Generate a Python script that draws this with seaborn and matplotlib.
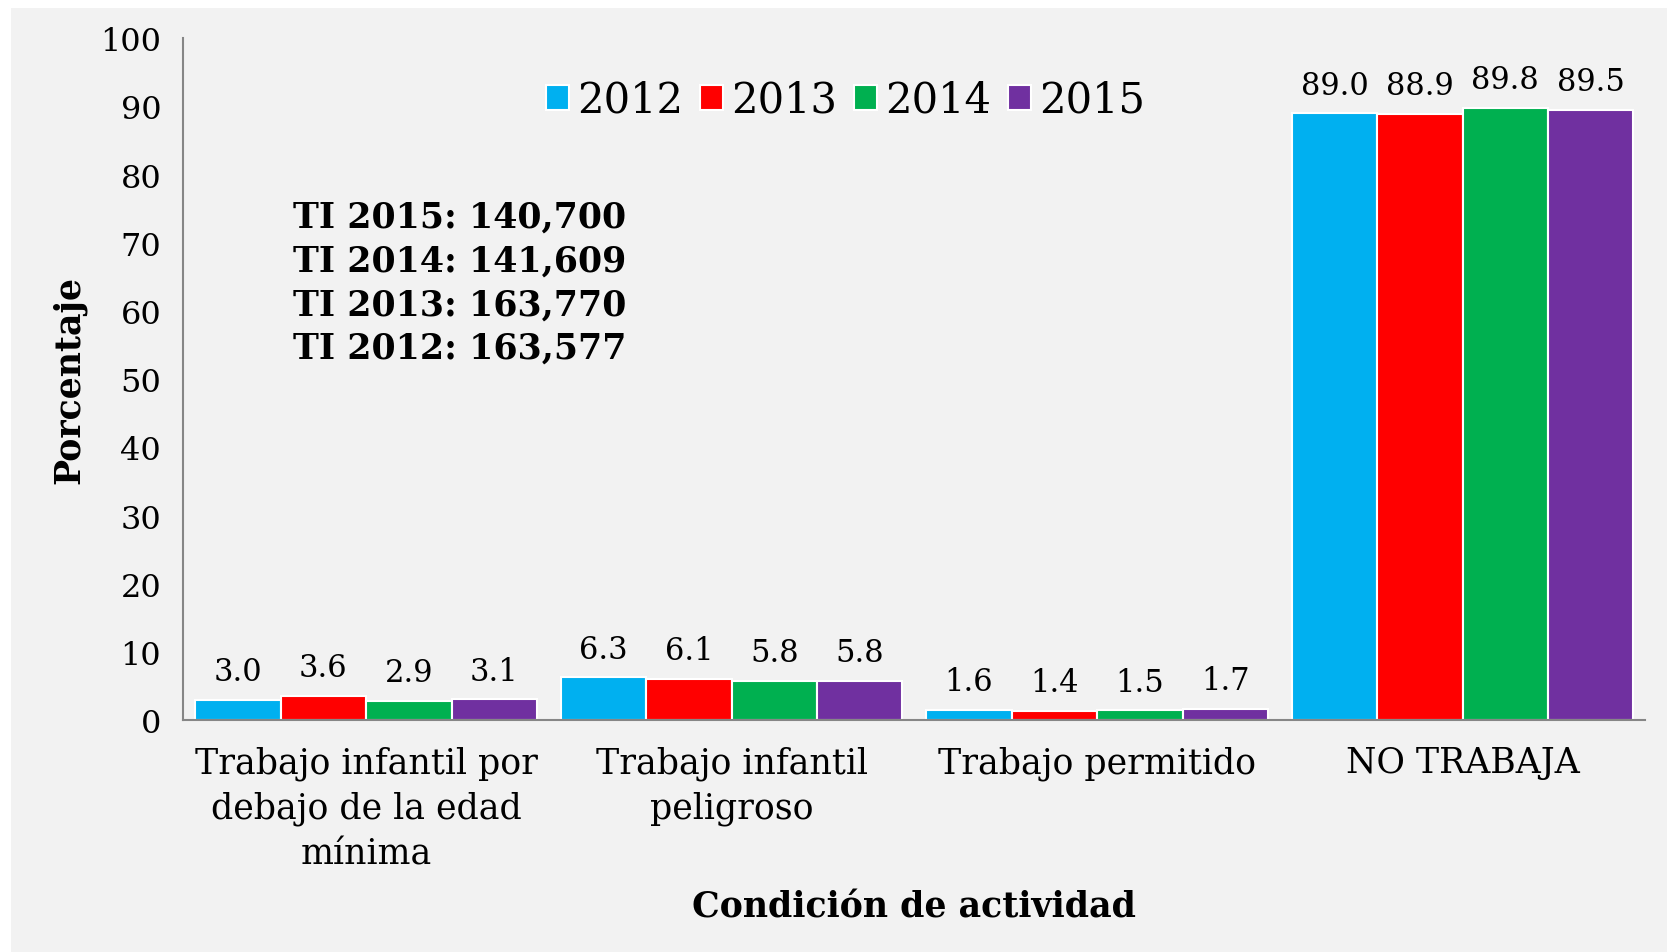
import pandas as pd
import seaborn as sns
import matplotlib.pyplot as plt
from matplotlib.patches import Rectangle

# ---------------------------
# Data
# ---------------------------
categories = [
    "Trabajo infantil por\ndebajo de la edad\nmínima",
    "Trabajo infantil\npeligroso",
    "Trabajo permitido",
    "NO TRABAJA",
]
years = ["2012", "2013", "2014", "2015"]
v2012 = [3.0, 6.3, 1.6, 89.0]
v2013 = [3.6, 6.1, 1.4, 88.9]
v2014 = [2.9, 5.8, 1.5, 89.8]
v2015 = [3.1, 5.8, 1.7, 89.5]
colors = ["#00B0F0", "#FF0000", "#00B050", "#7030A0"]
ti_lines = [
    "TI 2015: 140,700",
    "TI 2014: 141,609",
    "TI 2013: 163,770",
    "TI 2012: 163,577",
]

rows = []
for year, vals in zip(years, [v2012, v2013, v2014, v2015]):
    for cat, v in zip(categories, vals):
        rows.append({"cat": cat, "year": year, "value": v})
df = pd.DataFrame(rows)

sns.set_style("white")
plt.rcParams["font.family"] = ["DejaVu Serif"]
plt.rcParams["text.color"] = "black"
plt.rcParams["axes.labelcolor"] = "black"
plt.rcParams["xtick.color"] = "black"
plt.rcParams["ytick.color"] = "black"

fig = plt.figure(figsize=(16.67, 9.53), dpi=100)
fig.patch.set_facecolor("white")
# grey chart area with thin white border top/left
fig.patches.append(Rectangle((11 / 1667, 0), 1, 1 - 9 / 953, transform=fig.transFigure,
                             facecolor="#F2F2F2", edgecolor="none", zorder=-10))
ax = fig.add_axes([0.110, 0.243, 0.877, 0.716])
ax.set_facecolor("#F2F2F2")

sns.barplot(data=df, x="cat", y="value", hue="year", palette=colors,
            width=0.935, edgecolor="white", linewidth=1.5, saturation=1,
            ax=ax, legend=True)

for cont in ax.containers:
    ax.bar_label(cont, fmt="%.1f", padding=9, fontsize=22)

ax.set_ylim(0, 100)
ax.set_xlim(-0.5, 3.5)
ax.set_yticks(range(0, 101, 10))
ax.tick_params(axis="y", labelsize=23, length=8, color="#868686", width=1.5, pad=8)
ax.tick_params(axis="x", labelsize=25, length=0, pad=18)
ax.set_xticks([-0.5, 0.5, 1.5, 2.5, 3.5], minor=True)
ax.tick_params(axis="x", which="minor", length=10, color="#868686", width=1.5)
for lab in ax.get_xticklabels():
    lab.set_linespacing(1.4)

for s in ["top", "right"]:
    ax.spines[s].set_visible(False)
for s in ["left", "bottom"]:
    ax.spines[s].set_color("#868686")
    ax.spines[s].set_linewidth(1.5)

ax.set_ylabel("Porcentaje", fontsize=25, fontweight="bold", labelpad=10)
ax.set_xlabel("Condición de actividad", fontsize=25, fontweight="bold", labelpad=14)

ax.legend(loc="upper center", bbox_to_anchor=(0.453, 0.995), ncol=4, frameon=False,
          fontsize=30, handlelength=0.55, handleheight=0.55, handletextpad=0.2,
          columnspacing=0.4)

ax.text(-0.2, 76.3, "\n".join(ti_lines), fontsize=25, fontweight="bold",
        va="top", ha="left", linespacing=1.36)

fig.savefig("out.png", dpi=100, facecolor=fig.get_facecolor())
